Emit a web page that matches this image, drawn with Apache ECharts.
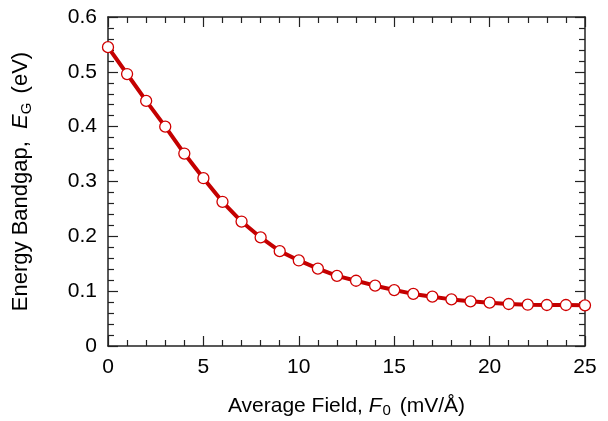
<!DOCTYPE html>
<html>
<head>
<meta charset="utf-8">
<script src="https://cdn.jsdelivr.net/npm/echarts@6/dist/echarts.min.js"></script>
<style>html,body{margin:0;padding:0;background:#fff}#c{width:608px;height:421px}</style>
</head>
<body>
<div id="c"></div>
<script>
var fieldValues = [0,1,2,3,4,5,6,7,8,9,10,11,12,13,14,15,16,17,18,19,20,21,22,23,24,25];
var bandgapValues = [0.545,0.496,0.447,0.400,0.351,0.306,0.263,0.227,0.198,0.173,0.156,0.141,0.128,0.119,0.110,0.102,0.095,0.090,0.085,0.0815,0.079,0.0766,0.0753,0.0748,0.0748,0.0742];
var xTicks = [0,5,10,15,20,25];
var yTicks = [0,0.1,0.2,0.3,0.4,0.5,0.6];

var FONT = '"Liberation Sans", Arial, sans-serif';
var AX = '#222';
function baseAxis(extra) {
  var o = {
    axisLine: {show: true, onZero: false, lineStyle: {color: AX, width: 1.5}},
    axisTick: {show: true, inside: true, length: 10, lineStyle: {color: AX, width: 1.2}},
    minorTick: {show: true, splitNumber: 5, length: 6, lineStyle: {color: AX, width: 1.2}},
    splitLine: {show: false},
    axisLabel: {color: '#000', fontFamily: FONT, fontSize: 21}
  };
  for (var k in extra) o[k] = extra[k];
  return o;
}
var pairs = fieldValues.map(function(x, i){ return [x, bandgapValues[i]]; });
var chart = echarts.init(document.getElementById('c'), null, {renderer: 'canvas'});
chart.setOption({
  animation: false,
  backgroundColor: '#fff',
  grid: {left: 108, top: 17, right: 23, bottom: 75, containLabel: false, outerBoundsMode: 'none'},
  xAxis: [
    baseAxis({type: 'value', position: 'bottom', min: xTicks[0], max: xTicks[xTicks.length-1], interval: 5,
      axisLabel: {color: '#000', fontFamily: FONT, fontSize: 21, margin: 11},
      name: 'Average Field, {i|F}{sub|0} (mV/Å)', nameLocation: 'middle', nameGap: 48,
      nameTextStyle: {color: '#000', fontFamily: FONT, fontSize: 21, lineHeight: 24,
        rich: {i: {fontFamily: FONT, fontSize: 21, fontStyle: 'italic', lineHeight: 24, color: '#000'},
               sub: {fontFamily: FONT, fontSize: 15, lineHeight: 14, verticalAlign: 'bottom', color: '#000', padding: [0, 3, 0, 1]}}}
    }),
    baseAxis({type: 'value', position: 'top', min: xTicks[0], max: xTicks[xTicks.length-1], interval: 5,
      axisLabel: {show: false}})
  ],
  yAxis: [
    baseAxis({type: 'value', position: 'left', min: yTicks[0], max: yTicks[yTicks.length-1], interval: 0.1,
      axisLabel: {color: '#000', fontFamily: FONT, fontSize: 21, margin: 11},
      name: 'Energy Bandgap,  {i|E}{sub|G} (eV)', nameLocation: 'middle', nameGap: 74,
      nameTextStyle: {color: '#000', fontFamily: FONT, fontSize: 22, lineHeight: 26, padding: [0, 0, 0, 0],
        rich: {i: {fontFamily: FONT, fontSize: 22, fontStyle: 'italic', lineHeight: 26, color: '#000'},
               sub: {fontFamily: FONT, fontSize: 15, lineHeight: 15, verticalAlign: 'bottom', color: '#000', padding: [0, 3, 0, 0]}}}
    }),
    baseAxis({type: 'value', position: 'right', min: yTicks[0], max: yTicks[yTicks.length-1], interval: 0.1,
      axisLabel: {show: false}})
  ],
  series: [{
    type: 'line',
    xAxisIndex: 0, yAxisIndex: 0,
    data: pairs,
    lineStyle: {color: '#c40000', width: 4},
    itemStyle: {color: '#fff', borderColor: '#d00000', borderWidth: 1.3},
    symbol: 'circle',
    symbolSize: 11,
    showAllSymbol: true,
    clip: false
  }]
});
</script>
</body>
</html>
